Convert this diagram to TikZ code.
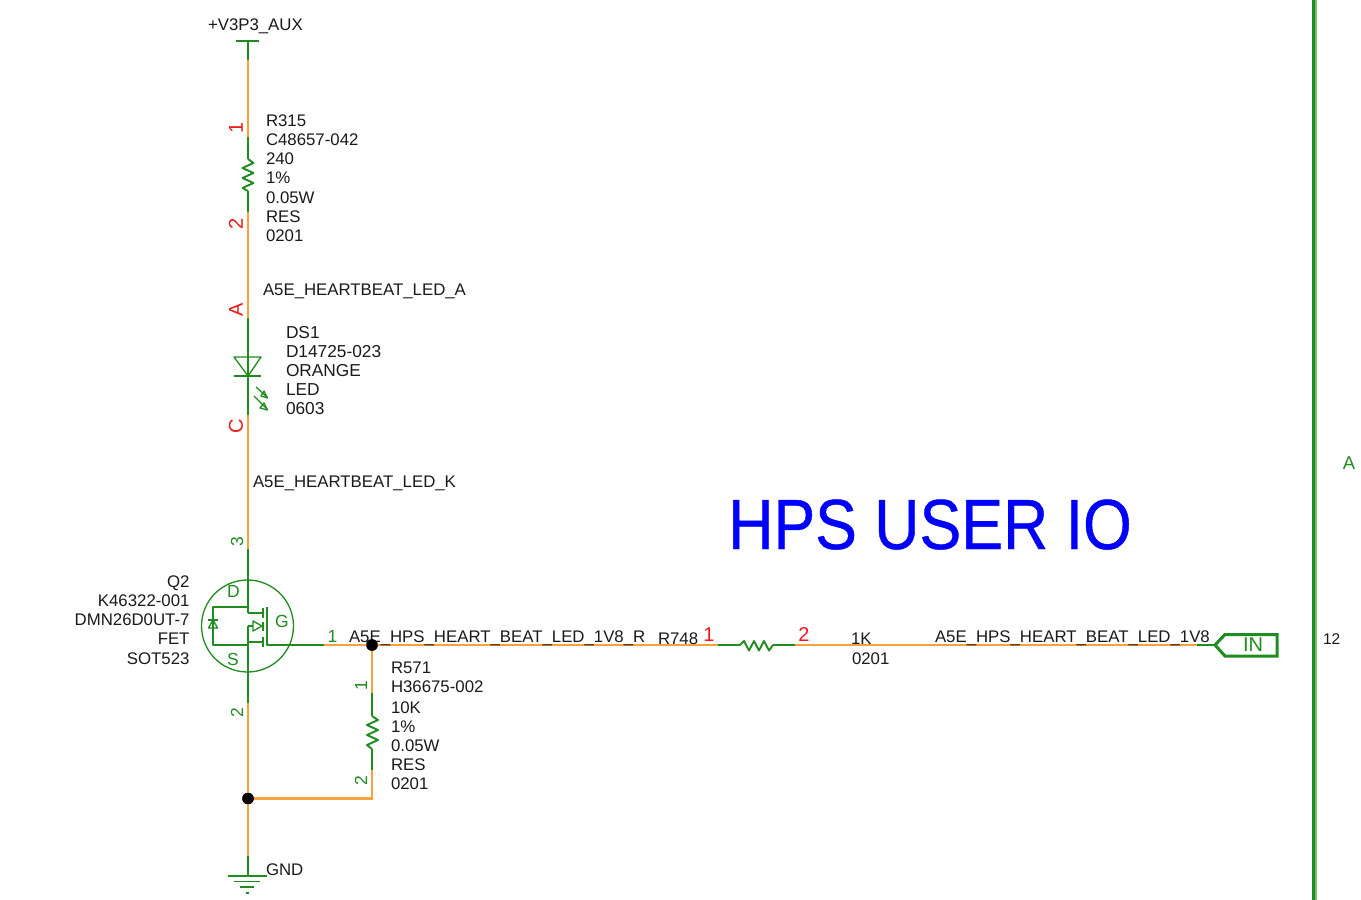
\documentclass[tikz,border=0pt]{standalone}
\usepackage{graphicx}
\usepackage{fontspec}
\setmainfont{Liberation Sans}
\newfontfamily\hpsfont[FakeBold=0.6]{Liberation Sans}
\definecolor{wireor}{HTML}{F9A23C}
\definecolor{symgr}{HTML}{1E8C1E}
\definecolor{pinred}{HTML}{F01818}
\definecolor{txtc}{HTML}{1A1A1A}
\tikzset{
  netwire/.style={draw=wireor,line width=1.3pt},
  fat/.style={draw=wireor,line width=2.6pt},
  sym/.style={draw=symgr,line width=1.3pt,line join=round},
  zig/.style={draw=symgr,line width=1.9pt,line join=round},
  txt/.style={anchor=base west,inner sep=0pt,outer sep=0pt,text=txtc,font=\fontsize{16.8}{19}\selectfont},
  txr/.style={txt,anchor=base east},
  pinr/.style={inner sep=0pt,text=pinred,font=\fontsize{20}{20}\selectfont},
  ping/.style={inner sep=0pt,text=symgr,font=\fontsize{17.5}{18}\selectfont},
  dot/.style={circle,fill=black,inner sep=0pt,minimum size=11.5pt},
}
\begin{document}
\begin{tikzpicture}[x=1pt,y=-1pt]
\useasboundingbox (0,0) rectangle (1361,900);
\fill[white] (0,0) rectangle (1361,900);
% named points on the main rail
\coordinate (pwr) at (248,41);
\coordinate (pwrb) at (248,60);
\coordinate (r1a) at (248,137);
\coordinate (r1z) at (248,159);
\coordinate (r1y) at (248,191);
\coordinate (r1b) at (248,212);
\coordinate (dsa) at (248,318);
\coordinate (dsc) at (248,415);
\coordinate (qd) at (248,549);
\coordinate (qs) at (248,703);
\node[dot] (j1) at (372,645) {};
\node[dot] (j2) at (248,798.5) {};
\coordinate (gndt) at (248,856);
\coordinate (gnd) at (248,876);
\coordinate (gt) at (324,645);
\coordinate (r2a) at (718,645);
\coordinate (r2z) at (740,645);
\coordinate (r2y) at (773,645);
\coordinate (r2b) at (795,645);
\coordinate (inw) at (1197,645);
\coordinate (inp) at (1215,645);
\coordinate (r3a) at (372,693);
\coordinate (r3z) at (372,716);
\coordinate (r3y) at (372,749);
\coordinate (r3b) at (372,770);
\coordinate (r3c) at (372,798.5);
% wires
\draw[netwire] (pwrb) -- (r1a);
\draw[netwire] (r1b) -- (dsa);
\draw[netwire] (dsc) -- (qd);
\draw[netwire] (gt) -- (r2a);
\draw[netwire] (r2b) -- (inw);
\draw[netwire] (j1) -- (r3a);
\draw[fat] (qs) -- (j2);
\draw[fat] (j2) -- (gndt);
\draw[fat,line join=miter] (j2) -- (r3c) -- (r3b);
% power symbol
\draw[sym] (236,41) -- (259,41);
\draw[sym] (pwr) -- (pwrb);
% R315
\draw[sym] (r1a) -- (r1z);
\draw[sym] (r1y) -- (r1b);
\draw[zig] (r1z) -- (253.5,163) -- (242.5,168) -- (253.5,173) -- (242.5,178) -- (253.5,183) -- (242.5,188) -- (r1y);
% LED
\draw[sym] (dsa) -- (dsc);
\draw[sym] (234,357) -- (261,357) -- (248,376) -- cycle;
\draw[sym] (234,376) -- (261,376);
\draw[sym] (256,387) -- (267,397);
\draw[sym] (261,396) -- (267.5,398) -- (264,391) -- cycle;
\draw[sym] (254,396) -- (267,409);
\draw[sym] (260,408) -- (267.5,410) -- (264,403) -- cycle;
% MOSFET
\draw[sym] (247.5,626) circle (46);
\draw[sym] (qd) -- (248,613);
\draw[sym] (248,626) -- (qs);
\draw[sym] (248,613) -- (263,613);
\draw[sym] (248,642) -- (263,642);
\draw[sym] (263,608) -- (263,618);
\draw[sym] (263,637) -- (263,647);
\draw[sym] (263,622) -- (263,631);
\draw[sym] (248,626) -- (253,626);
\draw[sym] (253,621) -- (262,626) -- (253,631) -- cycle;
\draw[sym] (267,607) -- (267,645) -- (gt);
\draw[sym] (248,607) -- (213,607) -- (213,645) -- (248,645);
\draw[sym] (208,620) -- (218,620);
\draw[sym] (213,620) -- (208.5,628) -- (217.5,628) -- cycle;
% R748
\draw[sym] (r2a) -- (r2z);
\draw[sym] (r2y) -- (r2b);
\draw[zig] (r2z) -- (744,641) -- (749,650.5) -- (754,641) -- (759,650.5) -- (764,641) -- (769,650.5) -- (r2y);
% R571
\draw[sym] (r3a) -- (r3z);
\draw[sym] (r3y) -- (r3b);
\draw[zig] (r3z) -- (378,720) -- (367,725) -- (378,730) -- (367,735) -- (378,740) -- (367,745) -- (r3y);
% GND
\draw[sym] (gndt) -- (gnd);
\draw[sym] (228,876) -- (267,876);
\draw[sym] (234,881.5) -- (260,881.5);
\draw[sym] (240,887) -- (254,887);
\draw[sym] (246,893) -- (249,893);
% off-page connector
\draw[sym] (inw) -- (inp);
\draw[draw=symgr,line width=3pt,line join=miter] (inp) -- (1225,634.5) -- (1277,634.5) -- (1277,656) -- (1225,656) -- cycle;
\node[inner sep=0pt,text=symgr,font=\fontsize{20}{20}\selectfont] (intext) at (1253,645) {IN};
% border
\draw[draw=symgr!60,line width=2pt] (1316,0) -- (1316,900);
\draw[draw=symgr,line width=3pt] (1313.5,0) -- (1313.5,900);
% texts
\node[txt] (t0) at (208,30.5) {+V3P3\_AUX};
\foreach \n/\y/\s in {a/126.5/R315,b/145.5/C48657-042,c/164.5/240,d/183.5/1\%,e/203.5/0.05W,f/222/RES,g/241.5/0201}
  \node[txt] (ra\n) at (266,\y) {\s};
\node[txt] (t1) at (263,295.5) {A5E\_HEARTBEAT\_LED\_A};
\foreach \n/\y/\s in {a/338/DS1,b/357.5/D14725-023,c/376.5/ORANGE,d/395.5/LED,e/414.5/0603}
  \node[txt,font=\fontsize{17.3}{19}\selectfont] (ds\n) at (286,\y) {\s};
\node[txt] (t2) at (253,487.5) {A5E\_HEARTBEAT\_LED\_K};
\foreach \n/\y/\s in {a/587.5/Q2,b/606.5/K46322-001,c/625.5/DMN26D0UT-7,d/644.5/FET,e/664.5/SOT523}
  \node[txr] (q\n) at (189.5,\y) {\s};
\node[txt] (t3) at (349,642) {A5E\_HPS\_HEART\_BEAT\_LED\_1V8\_R};
\node[txt] (t4) at (658,644) {R748};
\node[txt] (t5) at (851,644) {1K};
\node[txt] (t6) at (852,664.5) {0201};
\node[txt] (t7) at (935,642) {A5E\_HPS\_HEART\_BEAT\_LED\_1V8};
\foreach \n/\y/\s in {a/673/R571,b/692.5/H36675-002,c/713/10K,d/732/1\%,e/751/0.05W,f/770/RES,g/789/0201}
  \node[txt] (rr\n) at (391,\y) {\s};
\node[txt] (t8) at (266,875) {GND};
\node[txt,font=\fontsize{15.5}{16}\selectfont] (t9) at (1323,644.5) {12};
\node[inner sep=0pt,text=symgr,font=\fontsize{18.5}{19}\selectfont] (ta) at (1349,463) {A};
\node[inner sep=0pt,text=blue,font=\hpsfont\fontsize{71}{71}\selectfont,anchor=base west] (tt) at (728,549) {\scalebox{.882}[1]{HPS USER IO}};
% pin labels
\node[pinr,rotate=90] (p1) at (236,128) {1};
\node[pinr,rotate=90] (p2) at (236,223.5) {2};
\node[pinr,rotate=90] (pa) at (236,309.5) {A};
\node[pinr,rotate=90] (pc) at (236,426.5) {C};
\node[pinr] (p3) at (709,635) {1};
\node[pinr] (p4) at (804,635) {2};
\node[ping,rotate=90] (g3) at (237,541.5) {3};
\node[ping,rotate=90] (g2) at (237,712.5) {2};
\node[ping] (g1) at (332.5,636) {1};
\node[ping,rotate=90] (g4) at (361,686) {1};
\node[ping,rotate=90] (g5) at (361,780.5) {2};
\node[ping] (D) at (233.5,591) {D};
\node[ping] (G) at (282,621) {G};
\node[ping] (S) at (233,659) {S};
\node[dot] at (j1) {};
\node[dot] at (j2) {};
\end{tikzpicture}
\end{document}
